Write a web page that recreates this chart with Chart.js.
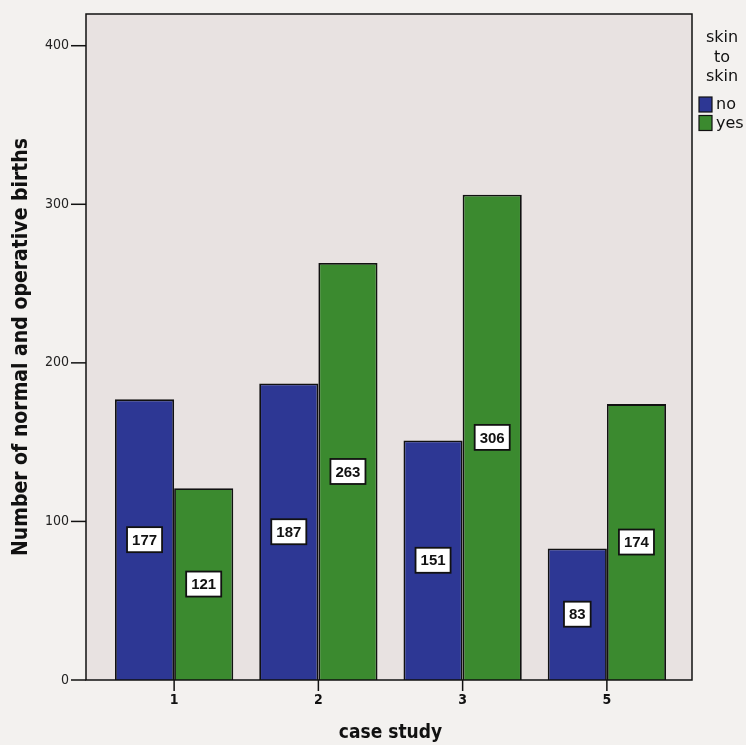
<!DOCTYPE html>
<html><head><meta charset="utf-8">
<script src="https://cdn.jsdelivr.net/npm/chart.js@4/dist/chart.umd.min.js"></script>
<style>html,body{margin:0;padding:0;background:#f3f1ef;overflow:hidden}</style>
</head><body>
<canvas id="c" width="746" height="745"></canvas>
<script>
const categories = ['1', '2', '3', '5'];
const seriesNames = ['no', 'yes'];
const noValues = [177, 187, 151, 83];
const yesValues = [121, 263, 306, 174];
const yTicks = [0, 100, 200, 300, 400];
const legendTitle = ['skin', 'to', 'skin'];
const yTitle = 'Number of normal and operative births';
const xTitle = 'case study';

const NARROW = '"Liberation Sans Narrow","DejaVu Sans Condensed","Liberation Sans",Arial,sans-serif';
const SANS = '"DejaVu Sans","Liberation Sans",Arial,sans-serif';
const COLORS = ['#2d3794', '#3b8a2f'];
const FRAME = {padL: 16, padR: 13};

const framePlugin = {
  id: 'frame',
  beforeDraw(chart) {
    const {ctx, chartArea: a, width, height} = chart;
    ctx.save();
    ctx.fillStyle = '#f3f1ef';
    ctx.fillRect(0, 0, width, height);
    ctx.fillStyle = '#e8e2e1';
    ctx.fillRect(a.left - FRAME.padL, a.top, a.right - a.left + FRAME.padL + FRAME.padR, a.bottom - a.top);
    ctx.restore();
  },
  afterDatasetsDraw(chart) {
    const {ctx, chartArea: a, scales} = chart;
    const L = a.left - FRAME.padL, R = a.right + FRAME.padR;
    ctx.save();
    ctx.strokeStyle = '#111';
    ctx.lineWidth = 1.5;
    ctx.strokeRect(L, a.top, R - L, a.bottom - a.top);
    // y tick marks
    scales.y.ticks.forEach(t => {
      const y = scales.y.getPixelForValue(t.value);
      ctx.beginPath(); ctx.moveTo(L - 15, y); ctx.lineTo(L, y); ctx.stroke();
    });
    // x tick marks
    scales.x.ticks.forEach((t, i) => {
      const x = scales.x.getPixelForTick(i);
      ctx.beginPath(); ctx.moveTo(x, a.bottom); ctx.lineTo(x, a.bottom + 11); ctx.stroke();
    });
    // value labels
    ctx.font = 'bold 15px "Liberation Sans",Arial,sans-serif';
    ctx.textAlign = 'center';
    ctx.textBaseline = 'middle';
    chart.data.datasets.forEach((ds, di) => {
      const meta = chart.getDatasetMeta(di);
      meta.data.forEach((bar, i) => {
        const txt = String(ds.data[i]);
        const cx = bar.x, cy = (bar.y + bar.base) / 2;
        const w = ctx.measureText(txt).width + 10, h = 25;
        ctx.fillStyle = '#ffffff';
        ctx.fillRect(cx - w / 2, cy - h / 2, w, h);
        ctx.lineWidth = 1.8;
        ctx.strokeStyle = '#111';
        ctx.strokeRect(cx - w / 2, cy - h / 2, w, h);
        ctx.fillStyle = '#111';
        ctx.fillText(txt, cx, cy + 1);
      });
    });
    // legend
    ctx.font = '16px ' + SANS;
    ctx.fillStyle = '#111';
    ctx.textAlign = 'center';
    ctx.textBaseline = 'alphabetic';
    legendTitle.forEach((t, i) => ctx.fillText(t, 722, 42 + i * 19.5));
    ctx.textAlign = 'left';
    ctx.textBaseline = 'middle';
    chart.data.datasets.forEach((ds, i) => {
      const y = 97 + i * 18.5;
      ctx.fillStyle = ds.backgroundColor;
      ctx.fillRect(699, y, 13, 15);
      ctx.lineWidth = 1.2;
      ctx.strokeStyle = '#111';
      ctx.strokeRect(699, y, 13, 15);
      ctx.fillStyle = '#111';
      ctx.fillText(ds.label, 716, y + 8);
    });
    ctx.restore();
  }
};

new Chart(document.getElementById('c'), {
  type: 'bar',
  data: {
    labels: categories,
    datasets: [
      {label: seriesNames[0], data: noValues, backgroundColor: COLORS[0], borderColor: '#111', borderWidth: 1.8},
      {label: seriesNames[1], data: yesValues, backgroundColor: COLORS[1], borderColor: '#111', borderWidth: 1.8}
    ]
  },
  options: {
    responsive: false,
    animation: false,
    devicePixelRatio: 1,
    layout: {padding: {top: 14, right: 67, bottom: 0, left: 0}},
    datasets: {bar: {categoryPercentage: 0.82, barPercentage: 1}},
    plugins: {legend: {display: false}, tooltip: {enabled: false}},
    scales: {
      x: {
        grid: {display: false, drawTicks: false},
        border: {display: false},
        ticks: {padding: 12, font: {family: NARROW, size: 14, weight: 'bold'}, color: '#111'},
        title: {display: true, text: xTitle, font: {family: NARROW, size: 19, weight: 'bold'}, color: '#111', padding: {top: 0, bottom: 1}},
        afterFit: s => { s.height = 65; }
      },
      y: {
        min: 0, max: 420,
        afterBuildTicks: s => { s.ticks = yTicks.map(v => ({value: v})); },
        grid: {display: false, drawTicks: true, tickLength: 31},
        border: {display: false},
        ticks: {padding: 2, font: {family: NARROW, size: 14}, color: '#222'},
        title: {display: true, text: yTitle, font: {family: NARROW, size: 21, weight: 'bold'}, color: '#111', padding: {top: 9, bottom: 0}},
        afterFit: s => { s.width = 102; }
      }
    }
  },
  plugins: [framePlugin]
});
</script>
</body></html>
